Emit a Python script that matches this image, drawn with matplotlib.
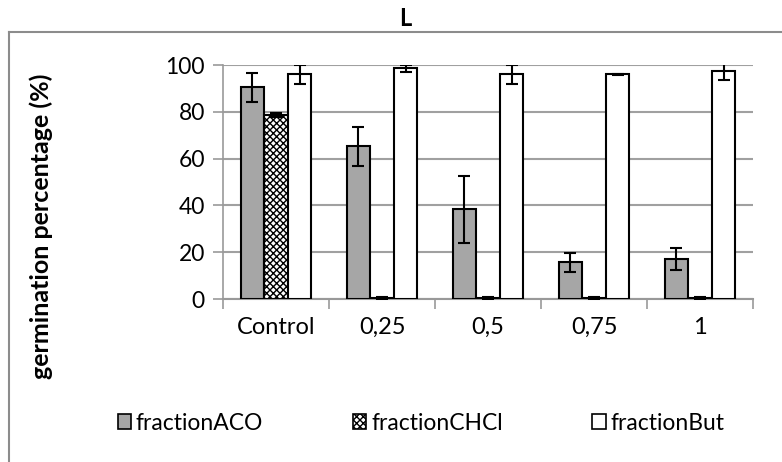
import matplotlib
matplotlib.use("Agg")
import matplotlib.pyplot as plt
import numpy as np
from matplotlib.lines import Line2D
from matplotlib.patches import Patch

plt.rcParams['font.family'] = ['Lato', 'DejaVu Sans']
plt.rcParams['hatch.linewidth'] = 1.0

categories = ["Control", "0,25", "0,5", "0,75", "1"]
series_names = ["fractionACO", "fractionCHCl", "fractionBut"]
aco = [90.5, 65.2, 38.3, 15.7, 17.0]
aco_err = [6.2, 8.3, 14.2, 4.0, 4.7]
chcl = [78.6, 0.3, 0.3, 0.3, 0.3]
chcl_err = [0.8, 0.5, 0.5, 0.5, 0.5]
but = [96.0, 98.6, 96.0, 96.0, 97.3]
but_err = [4.0, 1.6, 4.0, 0.3, 3.5]
yticks = [0, 20, 40, 60, 80, 100]

W, H = 782, 462
fig = plt.figure(figsize=(W / 100, H / 100), dpi=100)
ax = fig.add_axes([223 / W, 1 - 299 / H, (753 - 223) / W, (299 - 65) / H])

x = np.arange(len(categories))
w = 0.222
err_kw = dict(ecolor="black", elinewidth=1.5, capsize=4.5, capthick=1.5)
ax.bar(x - w, aco, w, yerr=aco_err, color="#a6a6a6", edgecolor="black",
       linewidth=1.5, error_kw=err_kw, zorder=3, label=series_names[0])
ax.bar(x, chcl, w, yerr=chcl_err, color="white", edgecolor="black",
       hatch="xxxxx", linewidth=1.5, error_kw=err_kw, zorder=3, label=series_names[1])
ax.bar(x + w, but, w, yerr=but_err, color="white", edgecolor="black",
       linewidth=1.5, error_kw=err_kw, zorder=3, label=series_names[2])

ax.set_xlim(-0.5, len(categories) - 0.5)
ax.set_ylim(0, 100)
ax.set_yticks(yticks)
ax.set_yticklabels([str(v) for v in yticks], fontsize=16.5)
ax.set_xticks(x)
ax.set_xticklabels(categories, fontsize=17)
ax.tick_params(axis='x', length=0, pad=13)
ax.set_xticks(np.arange(-0.5, len(categories), 1), minor=True)
ax.tick_params(axis='x', which='minor', length=7, width=1.2, color="#999999", direction='out')
ax.tick_params(axis='y', length=7, width=1.2, color="#999999", pad=6)
ax.yaxis.grid(True, color="#a0a0a0", linewidth=1.5, zorder=0)
ax.set_axisbelow(True)
for s in ["top", "right"]:
    ax.spines[s].set_visible(False)
ax.spines["left"].set_color("#999999")
ax.spines["left"].set_linewidth(1.2)
ax.spines["bottom"].set_color("#999999")
ax.spines["bottom"].set_linewidth(1.5)

fig.text(41 / W, 1 - 226 / H, "germination percentage (%)", rotation=90,
         ha="center", va="center", fontsize=18, fontweight="bold")

fig.text(405 / W, 1 - 19 / H, "L", ha="center", va="center", fontsize=17,
         fontweight="bold")

# chart border (cropped)
fig.add_artist(Line2D([9 / W, 9 / W], [0, 1 - 32 / H], color="#8c8c8c", linewidth=1.5,
                      transform=fig.transFigure))
fig.add_artist(Line2D([9 / W, 1], [1 - 32 / H, 1 - 32 / H], color="#8c8c8c", linewidth=1.5,
                      transform=fig.transFigure))

handles = [
    Patch(facecolor="#a6a6a6", edgecolor="black", linewidth=1.2),
    Patch(facecolor="white", edgecolor="black", hatch="xxxxx", linewidth=1.2),
    Patch(facecolor="white", edgecolor="black", linewidth=1.2),
]
fig.legend(handles, series_names, loc="center", bbox_to_anchor=(421 / W, 1 - 423 / H),
           ncol=3, frameon=False, fontsize=16.5, handlelength=0.6, handleheight=0.6,
           handletextpad=0.2, columnspacing=3.9)

fig.savefig("out.png", dpi=100)
